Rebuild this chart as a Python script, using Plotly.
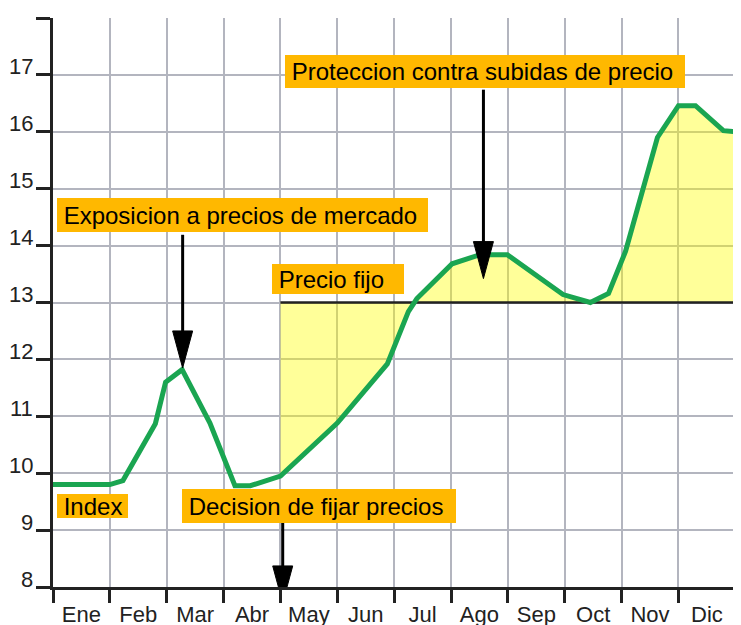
import plotly.graph_objects as go

# ---------------- data ----------------
months = ["Ene", "Feb", "Mar", "Abr", "May", "Jun", "Jul", "Ago", "Sep", "Oct", "Nov", "Dic"]
index_x = [0, 1.0, 1.23, 1.8, 1.98, 2.27, 2.76, 3.2, 3.47, 4.0, 5.0, 5.88, 6.25, 6.4,
           7.02, 7.51, 7.99, 8.97, 9.45, 9.77, 10.07, 10.63, 11.0, 11.3, 11.79, 12.0]
index_y = [9.8, 9.8, 9.87, 10.87, 11.6, 11.82, 10.88, 9.78, 9.78, 9.95, 10.88, 11.92, 12.84, 13.07,
           13.68, 13.84, 13.84, 13.14, 13.0, 13.16, 13.9, 15.9, 16.46, 16.46, 16.02, 16.0]
fixed_price = 13
fix_start = 4.0
y_ticks = [8, 9, 10, 11, 12, 13, 14, 15, 16, 17, 18]
y_ticktext = ["8", "9", "10", "11", "12", "13", "14", "15", "16", "17", ""]

GREEN = "#1aa551"
ORANGE = "#ffb800"
GRID = "#b3b5bf"
FONT = "Liberation Sans, Arial, sans-serif"

fx = [x for x in index_x if x >= fix_start]
fy = [y for x, y in zip(index_x, index_y) if x >= fix_start]

fig = go.Figure()
# baseline for fill
fig.add_trace(go.Scatter(x=fx, y=[fixed_price] * len(fx), mode="lines",
                         line=dict(width=0, color="rgba(0,0,0,0)"), hoverinfo="skip"))
fig.add_trace(go.Scatter(x=fx, y=fy, mode="lines", fill="tonexty",
                         fillcolor="rgba(255,255,0,0.40)",
                         line=dict(width=0, color="rgba(0,0,0,0)"), hoverinfo="skip"))
# fixed price line
fig.add_trace(go.Scatter(x=[fix_start, 12], y=[fixed_price, fixed_price], mode="lines",
                         line=dict(color="#222222", width=2.5)))
# index line
fig.add_trace(go.Scatter(x=index_x, y=index_y, mode="lines",
                         line=dict(color=GREEN, width=5)))

# ---------------- y tick labels (sit just above their tick) ----------------
for v, t in zip(y_ticks, y_ticktext):
    if t:
        fig.add_annotation(x=0, y=v, xref="paper", yref="y", text=t, showarrow=False,
                           xanchor="right", yanchor="middle", xshift=-18, yshift=8,
                           font=dict(family=FONT, size=22, color="#222222"))

# ---------------- annotations (labels) ----------------
boxes = [
    # text, x_left, y_top, width, height
    ("&nbsp;Exposicion a precios de mercado", 0.07, 14.84, 371, 34),
    ("&nbsp;Index", 0.07, 9.64, 71, 24),
    ("&nbsp;Decision de fijar precios", 2.27, 9.73, 274, 34),
    ("&nbsp;Precio fijo", 3.85, 13.68, 132, 30),
    ("&nbsp;Proteccion contra subidas de precio", 4.08, 17.35, 400, 33),
]
for t, x, y, w, h in boxes:
    fig.add_annotation(x=x, y=y, xref="x", yref="y", text=t, showarrow=False,
                       xanchor="left", yanchor="top", align="left", valign="middle",
                       width=w, height=h, bgcolor=ORANGE, borderpad=0, borderwidth=0,
                       font=dict(family=FONT, size=24, color="black"))

# ---------------- arrows ----------------
arrows = [
    # x, y_start, y_tip
    (2.28, 14.19, 11.85),
    (4.04, 9.17, 7.72),
    (7.57, 16.74, 13.42),
]
for x, y0, y1 in arrows:
    fig.add_shape(type="line", xref="x", yref="y", x0=x, x1=x, y0=y0, y1=y1 + 0.3,
                  line=dict(color="black", width=3), layer="above")
    fig.add_shape(type="path", xref="x", yref="y", xsizemode="pixel", ysizemode="pixel",
                  xanchor=x, yanchor=y1, path="M-10,37 L10,37 L0,0 Z",
                  fillcolor="black", line=dict(color="black", width=1), layer="above")

# page body has an 8px margin, so the figure is sized/offset to compensate
fig.update_layout(
    width=733, height=617,
    margin=dict(l=45, r=0, t=10, b=38, autoexpand=False),
    plot_bgcolor="white", paper_bgcolor="white",
    showlegend=False,
    font=dict(family=FONT, size=22, color="#222222"),
    xaxis=dict(range=[0, 12.1], tickmode="array", automargin=False,
               tickvals=[i + 0.5 for i in range(12)], ticktext=months,
               ticks="outside", ticklen=6, tickcolor="rgba(0,0,0,0)",
               showgrid=False, zeroline=False,
               showline=True, linecolor="#222222", linewidth=3,
               minor=dict(tickmode="array", tickvals=list(range(13)), ticks="outside",
                          ticklen=13, tickwidth=3, tickcolor="#222222",
                          showgrid=True, gridcolor=GRID, gridwidth=2),
               tickfont=dict(size=22)),
    yaxis=dict(range=[8, 18], tickmode="array", tickvals=y_ticks,
               automargin=False, showticklabels=False,
               ticks="outside", ticklen=14, tickwidth=3, tickcolor="#222222",
               showgrid=False, zeroline=False,
               showline=True, linecolor="#222222", linewidth=3,
               minor=dict(tickmode="array", tickvals=list(range(8, 18)), ticks="",
                          showgrid=True, gridcolor=GRID, gridwidth=2)),
)

fig.write_html("out.html")
